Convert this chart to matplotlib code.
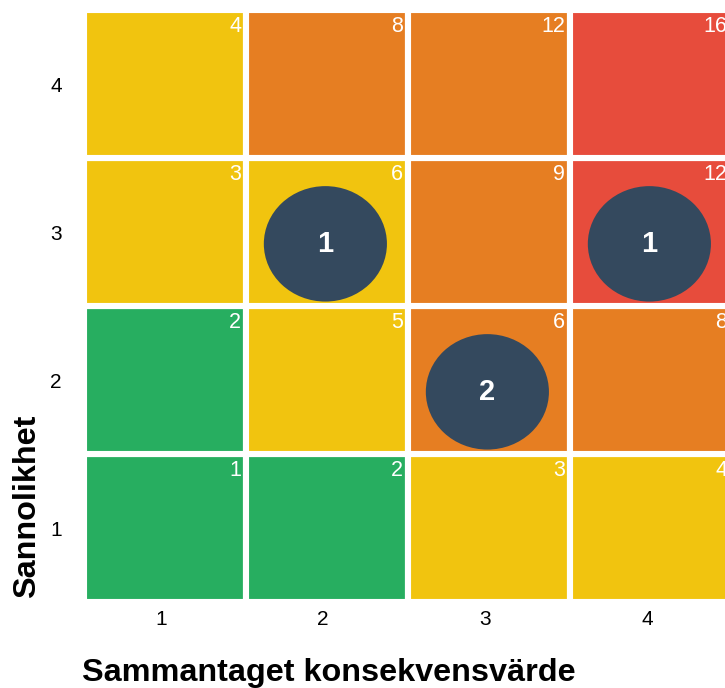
import matplotlib
matplotlib.use("Agg")
import matplotlib.pyplot as plt
from matplotlib.patches import Ellipse
import numpy as np

plt.rcParams['font.family'] = ['Liberation Sans', 'DejaVu Sans']

# Data
consequence = [1, 2, 3, 4]          # x categories
likelihood = [1, 2, 3, 4]           # y categories
# cell scores shown in the top-right corner (rows = likelihood 1..4)
scores = [
    [1, 2, 3, 4],
    [2, 5, 6, 8],
    [3, 6, 9, 12],
    [4, 8, 12, 16],
]
# cell colour class (rows = likelihood 1..4)
levels = [
    ["green", "green", "yellow", "yellow"],
    ["green", "yellow", "orange", "orange"],
    ["yellow", "yellow", "orange", "red"],
    ["yellow", "orange", "orange", "red"],
]
# risks placed in the matrix
risk_x = [2, 4, 3]
risk_y = [3, 3, 2]
risk_count = [1, 1, 2]

palette = {"green": "#27AE60", "yellow": "#F1C40F",
           "orange": "#E67E22", "red": "#E74C3C"}
bubble_color = "#34495E"

W, H = 725, 688
fig = plt.figure(figsize=(W / 100, H / 100), dpi=100)
ax = fig.add_axes([84 / W, (H - 602) / H, 648 / W, 592 / H])

for i, yv in enumerate(likelihood):
    xs = consequence
    cols = [palette[c] for c in levels[i]]
    ax.bar(xs, [1] * len(xs), bottom=yv - 0.5, width=1.0, color=cols,
           edgecolor="white", linewidth=4.4, align="center", zorder=1)
    for j, xv in enumerate(xs):
        ax.annotate(str(scores[i][j]), (xv + 0.5, yv + 0.5),
                    xytext=(-3.5, -4.5), textcoords="offset points",
                    ha="right", va="top", color="white", fontsize=15.5,
                    zorder=3)

for xv, yv, n in zip(risk_x, risk_y, risk_count):
    e = Ellipse((xv - 0.01, yv - 0.08), width=0.76, height=0.78,
                facecolor=bubble_color, edgecolor="none", zorder=4)
    ax.add_patch(e)
    ax.text(xv - 0.01, yv - 0.08, str(n), ha="center", va="center",
            color="white", fontsize=21, fontweight="bold", zorder=5)

ax.set_xlim(0.5, 4.5)
ax.set_ylim(0.5, 4.5)
ax.set_xticks(np.array(consequence) - 0.025)
ax.set_xticklabels([str(v) for v in consequence])
ax.set_yticks(likelihood)
ax.set_yticklabels([str(v) for v in likelihood])
ax.tick_params(axis="both", length=0, labelsize=15)
ax.tick_params(axis="x", pad=6)
ax.tick_params(axis="y", pad=16)
for s in ax.spines.values():
    s.set_visible(False)

fig.text(82 / W, (H - 681) / H, "Sammantaget konsekvensvärde",
         ha="left", va="baseline", fontsize=23.3, fontweight="bold")
fig.text(35 / W, (H - 598) / H, "Sannolikhet", rotation=90,
         ha="left", va="baseline", fontsize=23.3, fontweight="bold",
         rotation_mode="anchor")

fig.savefig("out.png", dpi=100)
